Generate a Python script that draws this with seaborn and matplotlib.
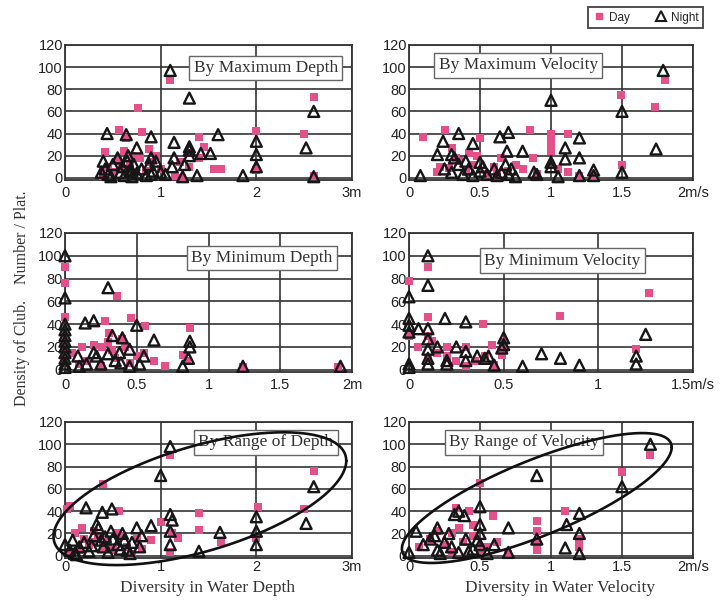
import numpy as np
import pandas as pd
import matplotlib
matplotlib.use("Agg")
import matplotlib.pyplot as plt
import seaborn as sns
from matplotlib.lines import Line2D

sns.set_style("white")
plt.rcParams['font.family'] = ['Liberation Sans', 'DejaVu Sans']

# ---------------- data ----------------
# By Maximum Depth
maxdep_day_x = [1.1, 2.6, 0.76, 0.56, 0.8, 2.0, 2.5, 1.4, 0.42, 0.64, 1.56, 1.63, 1.3, 1.4, 2.0, 1.22, 2.6, 0.45,
                0.5, 0.55, 0.6, 0.68, 0.72, 0.78, 0.85, 0.9, 0.95, 1.0, 1.15, 1.2, 1.3, 0.4, 0.62, 0.7, 0.88, 1.45]
maxdep_day_y = [88, 73, 63, 43, 41, 42, 40, 37, 23, 36, 8, 8, 10, 18, 7, 0, 2, 10,
                5, 15, 8, 12, 3, 18, 6, 14, 20, 8, 2, 14, 22, 2, 24, 20, 26, 28]
maxdep_night_x = [1.1, 1.3, 2.6, 0.44, 0.64, 0.9, 1.6, 0.75, 1.14, 1.3, 2.0, 2.52, 2.0, 1.52, 1.42, 1.3, 1.14, 0.9,
                  1.38, 1.23, 1.86, 2.6, 2.0, 0.4, 0.42, 0.45, 0.5, 0.55, 0.58, 0.6, 0.62, 0.65, 0.68, 0.7, 0.72,
                  0.75, 0.8, 0.85, 0.88, 0.92, 0.95, 1.0, 1.05, 1.12, 0.38, 0.48, 0.66, 0.7, 0.9, 1.25, 1.3]
maxdep_night_y = [97, 72, 60, 40, 39, 37, 39, 27, 32, 28, 33, 27, 21, 22, 22, 25, 18, 18,
                  2, 1, 2, 1, 10, 15, 8, 3, 12, 18, 5, 10, 2, 15, 7, 1, 12,
                  4, 8, 2, 12, 6, 15, 5, 3, 10, 5, 1, 20, 6, 3, 12, 20]

# By Maximum Velocity
maxvel_day_x = [1.8, 1.49, 1.73, 0.1, 0.25, 0.5, 0.85, 1.0, 1.0, 1.0, 1.0, 1.12, 1.5, 0.2, 1.12, 0.87, 0.8, 0.3,
                0.42, 0.28, 0.35, 0.4, 0.45, 0.55, 0.6, 0.65, 0.7, 0.75, 0.9, 1.2, 1.3, 0.22, 0.48, 0.62, 1.05, 0.33]
maxvel_day_y = [88, 75, 64, 37, 43, 36, 43, 40, 34, 29, 24, 40, 12, 5, 5, 18, 8, 27,
                22, 9, 15, 5, 12, 3, 10, 18, 6, 12, 3, 2, 1, 10, 20, 3, 8, 18]
maxvel_night_x = [1.79, 1.0, 1.5, 1.74, 1.5, 1.2, 0.7, 0.64, 0.35, 0.24, 0.45, 0.2, 0.3, 0.69, 0.8, 1.1, 1.1, 1.0,
                  1.0, 1.2, 0.08, 1.3, 1.2, 0.25, 0.3, 0.35, 0.38, 0.4, 0.42, 0.45, 0.5, 0.52, 0.55, 0.6, 0.62,
                  0.65, 0.68, 0.7, 0.72, 0.75, 0.9, 0.88, 1.05, 1.3, 0.32, 0.5]
maxvel_night_y = [97, 70, 60, 26, 5, 36, 41, 37, 40, 33, 31, 21, 21, 24, 24, 27, 17, 14,
                  10, 18, 2, 7, 2, 8, 5, 12, 3, 15, 8, 2, 6, 10, 3, 8, 2,
                  5, 12, 3, 8, 1, 3, 5, 1, 2, 18, 14]

# By Minimum Depth
mindep_day_x = [0, 0, 0.36, 0, 0.46, 0.28, 0.56, 0.87, 0.62, 0.33, 0.12, 0.2, 0.82, 1.9, 0.26, 0.31, 0.4, 0.5,
                0, 0, 0.05, 0.1, 0.15, 0.25, 0.35, 0.45, 0.55, 0.7, 0.85, 1.24, 0.42, 0.3]
mindep_day_y = [90, 76, 65, 46, 45, 43, 38, 37, 8, 17, 20, 22, 13, 2, 20, 32, 27, 12,
                20, 10, 15, 5, 8, 3, 10, 6, 15, 3, 8, 2, 20, 24]
mindep_night_x = [0, 0, 0.3, 0.14, 0.2, 0.5, 0.62, 0.33, 0.4, 0.87, 0.87, 0.82, 1.24, 1.92, 0, 0, 0, 0, 0, 0, 0,
                  0, 0.09, 0.1, 0.22, 0.38, 0.55, 0.45, 0.39, 0.25, 0.3, 0.35, 0.45, 0.52, 0.86, 0.0, 0.15, 0.2]
mindep_night_y = [100, 63, 72, 41, 43, 39, 26, 30, 28, 25, 20, 3, 3, 3, 5, 10, 15, 20, 25, 30, 35,
                  40, 12, 3, 12, 15, 12, 18, 6, 5, 14, 8, 3, 5, 10, 2, 5, 15]

# By Minimum Velocity
minvel_day_x = [0, 0.1, 1.27, 0.8, 0.1, 0.39, 1.2, 0.49, 0.44, 0.3, 0.05, 0.2, 0.0, 0.1, 0.15, 0.25, 0.35, 0.4,
                0.45, 0.5, 0.1, 0.2, 0.3, 0.12, 0.5]
minvel_day_y = [78, 90, 67, 47, 46, 40, 18, 13, 22, 20, 20, 20, 30, 10, 15, 8, 8, 12,
                4, 18, 30, 12, 3, 25, 24]
minvel_night_x = [0.1, 0.1, 0, 0.19, 0.3, 0.5, 1.25, 1.2, 1.2, 0.7, 0.8, 0.9, 0.6, 0.42, 0, 0, 0, 0.1, 0.1, 0.1,
                  0.15, 0.25, 0.3, 0.36, 0.2, 0.49, 0, 0, 0.1, 0.1, 0.2, 0.3, 0.05, 0.4, 0.5, 0.45]
minvel_night_y = [100, 74, 64, 45, 42, 28, 31, 12, 5, 14, 10, 4, 3, 12, 45, 39, 33, 36, 27, 18,
                  20, 20, 16, 12, 5, 19, 5, 2, 5, 10, 8, 8, 36, 10, 22, 4]

# By Range of Depth
rngdep_day_x = [2.6, 1.1, 0.4, 0.02, 0.05, 0.56, 1.4, 1.4, 2.02, 2.5, 1.0, 0.9, 1.63, 1.18, 2.0, 1.1, 0.1, 0.15,
                0.2, 0.25, 0.3, 0.35, 0.45, 0.5, 0.6, 0.65, 0.7, 0.75, 0.8, 0.18, 0.4, 0.55, 0.05, 1.12, 0.3]
rngdep_day_y = [76, 90, 64, 42, 45, 40, 38, 23, 44, 42, 30, 14, 12, 16, 16, 3, 20, 5,
                15, 10, 22, 18, 12, 5, 18, 8, 2, 15, 6, 25, 8, 20, 3, 20, 12]
rngdep_night_x = [1.1, 1.0, 2.6, 2.52, 0.22, 0.39, 0.49, 0.9, 1.1, 1.12, 1.1, 1.1, 1.62, 1.4, 2.0, 2.0, 2.0,
                  0.0, 0.05, 0.08, 0.1, 0.15, 0.2, 0.25, 0.3, 0.35, 0.4, 0.45, 0.5, 0.55, 0.6, 0.65, 0.7, 0.75,
                  0.8, 0.12, 0.28, 0.38, 0.48, 0.58, 0.68, 0.78, 0.33, 0.62, 0.42]
rngdep_night_y = [98, 72, 62, 29, 43, 39, 42, 27, 37, 32, 22, 10, 21, 4, 35, 22, 10,
                  10, 5, 14, 2, 8, 12, 4, 18, 25, 8, 3, 15, 10, 20, 5, 12, 25,
                  18, 1, 9, 14, 22, 6, 2, 8, 28, 14, 17]

# By Range of Velocity
rngvel_day_x = [1.7, 1.5, 0.5, 0.59, 1.1, 0.9, 0.9, 0.9, 1.2, 1.2, 0.33, 0.42, 0.07, 0.15, 0.25, 0.3, 0.38, 0.45,
                0.5, 0.55, 0.62, 0.7, 0.9, 0.2, 0.35, 0.45, 0.3]
rngvel_day_y = [90, 75, 65, 36, 40, 31, 22, 5, 15, 8, 43, 40, 8, 15, 10, 20, 12, 18,
                5, 8, 12, 2, 12, 22, 25, 28, 3]
rngvel_night_x = [1.7, 0.9, 1.5, 1.11, 1.2, 0.5, 0.5, 0.35, 0.39, 0.32, 0.2, 0.05, 0.0, 0.7, 0.9, 1.1, 1.2, 0.6,
                  0.7, 1.2, 0.1, 0.15, 0.2, 0.25, 0.3, 0.35, 0.4, 0.45, 0.5, 0.55, 0.28, 0.42, 0.48, 0.18, 0.22, 0.5]
rngvel_night_y = [100, 72, 62, 28, 38, 44, 28, 40, 36, 37, 25, 22, 3, 25, 15, 7, 2, 10,
                  3, 20, 10, 15, 5, 12, 8, 3, 15, 6, 10, 2, 20, 4, 14, 18, 2, 20]

titles = ["By Maximum Depth", "By Maximum Velocity", "By Minimum Depth",
          "By Minimum Velocity", "By Range of Depth", "By Range of Velocity"]
depth3_ticks = [0, 1, 2, 3]
depth3_labels = ["0", "1", "2", "3m"]
vel2_ticks = [0, 0.5, 1, 1.5, 2]
vel2_labels = ["0", "0.5", "1", "1.5", "2m/s"]
depth2_ticks = [0, 0.5, 1, 1.5, 2]
depth2_labels = ["0", "0.5", "1", "1.5", "2m"]
vel15_ticks = [0, 0.5, 1, 1.5]
vel15_labels = ["0", "0.5", "1", "1.5m/s"]
y_ticks = [0, 20, 40, 60, 80, 100, 120]

PINK = "#e3508a"

panels = [
    (maxdep_day_x, maxdep_day_y, maxdep_night_x, maxdep_night_y, depth3_ticks, depth3_labels),
    (maxvel_day_x, maxvel_day_y, maxvel_night_x, maxvel_night_y, vel2_ticks, vel2_labels),
    (mindep_day_x, mindep_day_y, mindep_night_x, mindep_night_y, depth2_ticks, depth2_labels),
    (minvel_day_x, minvel_day_y, minvel_night_x, minvel_night_y, vel15_ticks, vel15_labels),
    (rngdep_day_x, rngdep_day_y, rngdep_night_x, rngdep_night_y, depth3_ticks, depth3_labels),
    (rngvel_day_x, rngvel_day_y, rngvel_night_x, rngvel_night_y, vel2_ticks, vel2_labels),
]

# layout (figure fractions)
W, H = 721, 601
col_left = [65 / W, 409 / W]
col_width = [287 / W, 284 / W]
row_box = [(45, 180), (233, 372), (422, 558)]  # top, bottom in px
row_pad = [4, 4, 1.5]
title_pos = [(0.70, 0.83), (0.385, 0.85), (0.685, 0.82), (0.54, 0.80), (0.70, 0.85), (0.405, 0.85)]

fig = plt.figure(figsize=(7.21, 6.01), dpi=100)
fig.patch.set_facecolor("white")
serif = ["Liberation Serif", "DejaVu Serif"]

axes = []
for i, (dx, dy, nx, ny, xt, xl) in enumerate(panels):
    r, c = divmod(i, 2)
    top, bot = row_box[r]
    ax = fig.add_axes([col_left[c], 1 - bot / H, col_width[c], (bot - top) / H])
    axes.append(ax)
    day = pd.DataFrame({"x": dx, "y": dy})
    night = pd.DataFrame({"x": nx, "y": ny})
    sns.scatterplot(data=day, x="x", y="y", ax=ax, marker="s", color=PINK,
                    s=40, linewidth=0, zorder=3, legend=False, clip_on=False)
    sns.scatterplot(data=night, x="x", y="y", ax=ax, marker="^", color="none",
                    edgecolor="#161616", linewidth=1.7, s=62, zorder=4, legend=False, clip_on=False)
    ax.set_xlim(xt[0], xt[-1])
    ax.set_ylim(-2, 120)
    ax.set_xticks(xt)
    ax.set_xticklabels(xl)
    ax.set_yticks(y_ticks)
    ax.set_xlabel("")
    ax.set_ylabel("")
    ax.tick_params(length=0, labelsize=10.5, colors="#222222")
    ax.tick_params(axis="x", pad=row_pad[r])
    ax.tick_params(axis="y", pad=1.5)
    ax.grid(True, color="#333333", linewidth=1.2)
    ax.set_axisbelow(True)
    for sp in ax.spines.values():
        sp.set_color("#333333")
        sp.set_linewidth(1.3)
    tx, ty = title_pos[i]
    ax.text(tx, ty, titles[i], transform=ax.transAxes, ha="center", va="center",
            fontsize=12.5, family=serif, color="#333333", zorder=6,
            bbox=dict(boxstyle="square,pad=0.25", facecolor="white", edgecolor="#666666", linewidth=1.0))

# ellipses in the range panels (conjugate semi-diameters in data units)
t = np.linspace(0, 2 * np.pi, 400)
ell_specs = [
    (axes[4], (1.41, 51.2), (1.53, 34.0), (0.0, 48.9)),
    (axes[5], (0.90, 51.8), (0.95, 45.5), (0.0, 36.4)),
]
for ax, (cx, cy), (ux, uy), (vx, vy) in ell_specs:
    ex = cx + ux * np.cos(t) + vx * np.sin(t)
    ey = cy + uy * np.cos(t) + vy * np.sin(t)
    ax.plot(ex, ey, color="#111111", linewidth=1.9, clip_on=False, zorder=7)

# axis labels
fig.text(22 / W, 1 - 298 / H, "Density of Club.    Number / Plat.", rotation=90,
         ha="center", va="center", fontsize=11.5, family=serif, color="#333333")
fig.text(208 / W, 1 - 588 / H, "Diversity in Water Depth", ha="center", va="center",
         fontsize=12.5, family=serif, color="#333333")
fig.text(560 / W, 1 - 588 / H, "Diversity in Water Velocity", ha="center", va="center",
         fontsize=12.5, family=serif, color="#333333")

# legend
handles = [
    Line2D([], [], marker="s", linestyle="", color=PINK, markersize=5),
    Line2D([], [], marker="^", linestyle="", markerfacecolor="none", markeredgecolor="#1a1a1a",
           markeredgewidth=1.5, markersize=7),
]
leg = fig.legend(handles, ["Day", "Night"], loc="upper right", bbox_to_anchor=(709 / W, 1 - 1 / H),
                 ncol=2, frameon=True, fancybox=False, edgecolor="#222222", fontsize=8.5,
                 handletextpad=0.3, columnspacing=2.2, borderpad=0.4, handlelength=1.0)
leg.get_frame().set_linewidth(1.4)

fig.savefig("out.png", dpi=100, facecolor="white")
